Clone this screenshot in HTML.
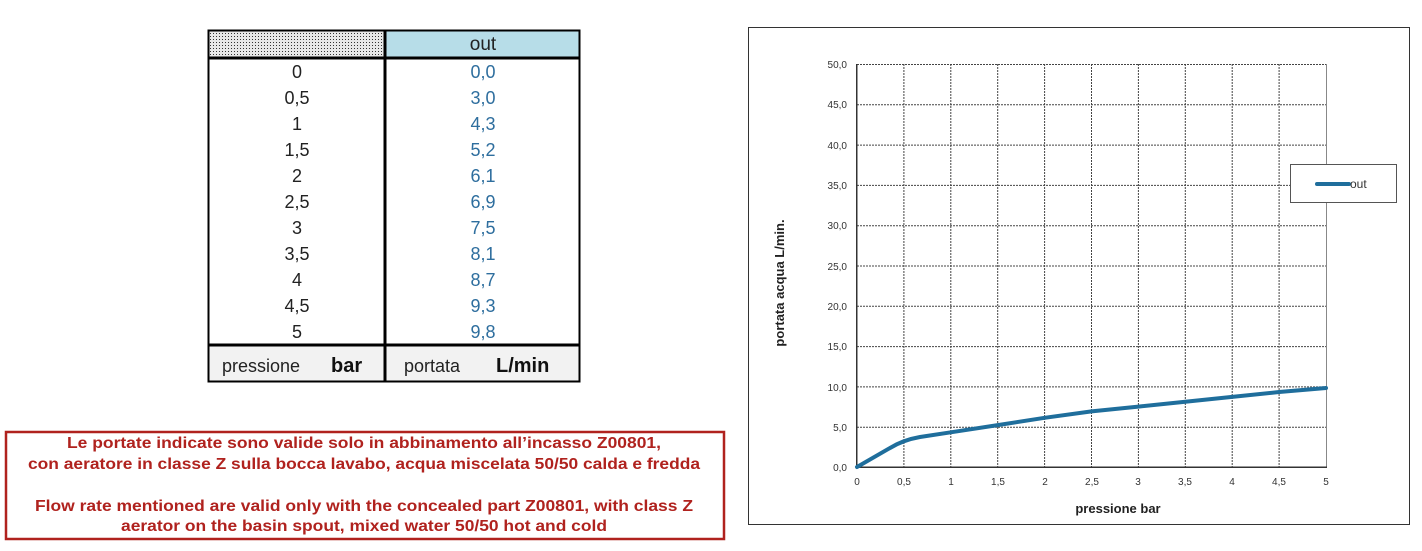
<!DOCTYPE html>
<html><head><meta charset="utf-8"><style>
html,body{margin:0;padding:0;background:#fff;width:1422px;height:551px;overflow:hidden}
svg{display:block}
</style></head><body>
<svg width="1422" height="551" viewBox="0 0 1422 551" xmlns="http://www.w3.org/2000/svg" font-family="Liberation Sans, sans-serif">
<defs>
<pattern id="dots" width="3" height="3" patternUnits="userSpaceOnUse"><rect width="3" height="3" fill="#e8e8e8"/><rect width="1" height="1" fill="#333"/></pattern>
</defs>
<!-- table -->
<rect x="208" y="30" width="177" height="28" fill="url(#dots)"/>
<rect x="385" y="30" width="195" height="28" fill="#b7dde8"/>
<rect x="208" y="345" width="372" height="37" fill="#f2f2f2"/>
<g stroke="#000" fill="none">
<rect x="208.5" y="30.5" width="371" height="351" stroke-width="2"/>
<line x1="208" y1="58" x2="580" y2="58" stroke-width="3"/>
<line x1="208" y1="345" x2="580" y2="345" stroke-width="3"/>
<line x1="385" y1="30" x2="385" y2="382" stroke-width="3"/>
</g>
<text x="483" y="50" font-size="19" text-anchor="middle" fill="#222">out</text>
<g font-size="18" text-anchor="middle" fill="#222">
<text x="297" y="78">0</text><text x="297" y="104">0,5</text><text x="297" y="130">1</text><text x="297" y="156">1,5</text><text x="297" y="182">2</text><text x="297" y="208">2,5</text><text x="297" y="234">3</text><text x="297" y="260">3,5</text><text x="297" y="286">4</text><text x="297" y="312">4,5</text><text x="297" y="338">5</text>
</g>
<g font-size="18" text-anchor="middle" fill="#2e6e9e">
<text x="483" y="78">0,0</text><text x="483" y="104">3,0</text><text x="483" y="130">4,3</text><text x="483" y="156">5,2</text><text x="483" y="182">6,1</text><text x="483" y="208">6,9</text><text x="483" y="234">7,5</text><text x="483" y="260">8,1</text><text x="483" y="286">8,7</text><text x="483" y="312">9,3</text><text x="483" y="338">9,8</text>
</g>
<text x="222" y="372" font-size="18" fill="#222">pressione</text>
<text x="331" y="372" font-size="20" font-weight="bold" fill="#111">bar</text>
<text x="404" y="372" font-size="18" fill="#222">portata</text>
<text x="496" y="372" font-size="20" font-weight="bold" fill="#111">L/min</text>
<!-- red box -->
<rect x="6" y="432" width="718" height="107" fill="#fff" stroke="#b0221e" stroke-width="2.5"/>
<g font-size="16" font-weight="bold" fill="#b0221e" text-anchor="middle">
<text x="364" y="448" textLength="594" lengthAdjust="spacingAndGlyphs">Le portate indicate sono valide solo in abbinamento all’incasso Z00801,</text>
<text x="364" y="469" textLength="672" lengthAdjust="spacingAndGlyphs">con aeratore in classe Z sulla bocca lavabo, acqua miscelata 50/50 calda e fredda</text>
<text x="364" y="511" textLength="658" lengthAdjust="spacingAndGlyphs">Flow rate mentioned are valid only with the concealed part Z00801, with class Z</text>
<text x="364" y="531" textLength="486" lengthAdjust="spacingAndGlyphs">aerator on the basin spout, mixed water 50/50 hot and cold</text>
</g>
<!-- chart -->
<rect x="748.5" y="27.5" width="661" height="497" fill="#fff" stroke="#333" stroke-width="1"/>
<g stroke="#444" stroke-width="1" stroke-dasharray="2,1">
<line x1="857" y1="64.5" x2="1326" y2="64.5"/><line x1="857" y1="104.8" x2="1326" y2="104.8"/><line x1="857" y1="145.1" x2="1326" y2="145.1"/><line x1="857" y1="185.4" x2="1326" y2="185.4"/><line x1="857" y1="225.7" x2="1326" y2="225.7"/><line x1="857" y1="266" x2="1326" y2="266"/><line x1="857" y1="306.3" x2="1326" y2="306.3"/><line x1="857" y1="346.6" x2="1326" y2="346.6"/><line x1="857" y1="386.9" x2="1326" y2="386.9"/><line x1="857" y1="427.2" x2="1326" y2="427.2"/>
<line x1="903.9" y1="64" x2="903.9" y2="467"/><line x1="950.8" y1="64" x2="950.8" y2="467"/><line x1="997.7" y1="64" x2="997.7" y2="467"/><line x1="1044.6" y1="64" x2="1044.6" y2="467"/><line x1="1091.5" y1="64" x2="1091.5" y2="467"/><line x1="1138.4" y1="64" x2="1138.4" y2="467"/><line x1="1185.3" y1="64" x2="1185.3" y2="467"/><line x1="1232.2" y1="64" x2="1232.2" y2="467"/><line x1="1279.1" y1="64" x2="1279.1" y2="467"/>
</g>
<rect x="1326" y="64" width="1" height="403" fill="#888"/>
<rect x="856" y="64" width="1.5" height="404" fill="#333"/>
<rect x="856" y="466.5" width="471" height="1.5" fill="#333"/>
<g font-size="10" fill="#333" text-anchor="end">
<text x="847" y="68">50,0</text><text x="847" y="108">45,0</text><text x="847" y="149">40,0</text><text x="847" y="189">35,0</text><text x="847" y="229">30,0</text><text x="847" y="270">25,0</text><text x="847" y="310">20,0</text><text x="847" y="350">15,0</text><text x="847" y="391">10,0</text><text x="847" y="431">5,0</text><text x="847" y="471">0,0</text>
</g>
<g font-size="10" fill="#333" text-anchor="middle">
<text x="857" y="485">0</text><text x="904" y="485">0,5</text><text x="951" y="485">1</text><text x="998" y="485">1,5</text><text x="1045" y="485">2</text><text x="1092" y="485">2,5</text><text x="1138" y="485">3</text><text x="1185" y="485">3,5</text><text x="1232" y="485">4</text><text x="1279" y="485">4,5</text><text x="1326" y="485">5</text>
</g>
<text x="1118" y="513" font-size="13" font-weight="bold" text-anchor="middle" fill="#222">pressione bar</text>
<text transform="translate(784,283) rotate(-90)" font-size="13" font-weight="bold" text-anchor="middle" fill="#222">portata acqua  L/min.</text>
<path d="M857,467 L890,448 Q903,440 920,437 L950.8,432.3 L997.7,425.1 L1044.6,417.8 L1091.5,411.4 L1138.4,406.6 L1185.3,401.7 L1232.2,396.9 L1279.1,392.0 L1326,388" fill="none" stroke="#1f6e9c" stroke-width="4" stroke-linejoin="round" stroke-linecap="round"/>
<rect x="1290.5" y="164.5" width="106" height="38" fill="#fff" stroke="#555"/>
<line x1="1317" y1="184" x2="1349" y2="184" stroke="#1f6e9c" stroke-width="4" stroke-linecap="round"/>
<text x="1350" y="188" font-size="12" fill="#333">out</text>
</svg>
</body></html>
